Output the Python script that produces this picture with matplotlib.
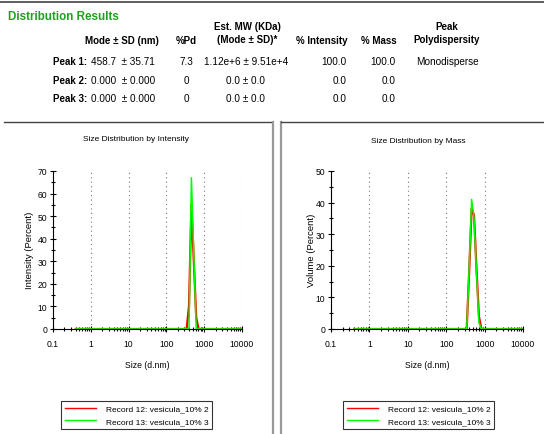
import numpy as np
import matplotlib
matplotlib.use("Agg")
import matplotlib.pyplot as plt
from matplotlib.ticker import LogLocator, MultipleLocator, FixedLocator, NullFormatter
from matplotlib.lines import Line2D

plt.rcParams.update({
    "font.family": ["Liberation Sans", "DejaVu Sans"],
    "font.size": 6,
})

# ---- table values ----
col_heads = ["Mode ± SD (nm)", "%Pd", "Est. MW (KDa)\n(Mode ± SD)*", "% Intensity", "% Mass",
             "Peak\nPolydispersity"]
peaks = ["Peak 1:", "Peak 2:", "Peak 3:"]
mode_sd = ["458.7  ± 35.71", "0.000  ± 0.000", "0.000  ± 0.000"]
pd_vals = ["7.3", "0", "0"]
mw_vals = ["1.12e+6 ± 9.51e+4", "0.0 ± 0.0", "0.0 ± 0.0"]
int_vals = ["100.0", "0.0", "0.0"]
mass_vals = ["100.0", "0.0", "0.0"]
poly_vals = ["Monodisperse", "", ""]

# ---- distribution data (size in d.nm) ----
size_bins = [0.4, 342, 396, 459, 531, 615, 712, 825, 10000]
int_rec12 = [0, 0, 10, 55, 30, 5, 0, 0, 0]
int_rec13 = [0, 0, 0, 67, 33, 0, 0, 0, 0]
mass_rec12 = [0, 0, 18, 38, 36, 19, 4, 0, 0]
mass_rec13 = [0, 0, 19, 41, 35, 18, 2, 0, 0]
rec_labels = ["Record 12: vesicula_10% 2", "Record 13: vesicula_10% 3"]
RED, GREEN = "#ff0000", "#00ff00"

W, H = 544, 435
fig = plt.figure(figsize=(W / 100, H / 100), dpi=100)


def fx(px):
    return px / W


def fy(py):
    return 1 - py / H


# frame lines
fig.add_artist(Line2D([0, 1], [fy(3), fy(3)], color="#444444", lw=1.2))
fig.add_artist(Line2D([fx(4), fx(272)], [fy(122.5), fy(122.5)], color="#444444", lw=1.0))
fig.add_artist(Line2D([fx(272.5), fx(272.5)], [fy(122.5), 0], color="#999999", lw=1.6))
fig.add_artist(Line2D([fx(280.5), fx(280.5)], [fy(122.5), 0], color="#999999", lw=1.6))
fig.add_artist(Line2D([fx(280.5), 1], [fy(122.5), fy(122.5)], color="#444444", lw=1.0))

# ---- header table ----
fig.text(fx(8), fy(17), "Distribution Results", color="#22a022", fontsize=8.4,
         fontweight="bold", va="center", ha="left")
head_x = [122, 186, 247, 322, 379, 447]
for x, h in zip(head_x, col_heads):
    yy = 41 if "\n" not in h else 33.5
    fig.text(fx(x), fy(yy), h, fontsize=7, fontweight="bold", ha="center", va="center",
             linespacing=1.45)

row_y = [62, 81, 99]
for i, y in enumerate(row_y):
    fig.text(fx(87), fy(y), peaks[i], fontsize=7, fontweight="bold", ha="right", va="center")
    fig.text(fx(91), fy(y), mode_sd[i], fontsize=7.2, ha="left", va="center")
    fig.text(fx(186), fy(y), pd_vals[i], fontsize=7.2, ha="center", va="center")
    fig.text(fx(246), fy(y), mw_vals[i], fontsize=7.2, ha="center", va="center")
    fig.text(fx(347), fy(y), int_vals[i], fontsize=7.2, ha="right", va="center")
    fig.text(fx(396), fy(y), mass_vals[i], fontsize=7.2, ha="right", va="center")
    fig.text(fx(447), fy(y), poly_vals[i], fontsize=7.2, ha="center", va="center")


def panel(left_px, right_px, ymax, r_vals, g_vals, title, title_x, title_y, ylabel, ylab_x,
          leg_cx):
    ax = fig.add_axes([fx(left_px), fy(330), (right_px - left_px) / W, 158 / H])
    ax.plot(size_bins, r_vals, color=RED, lw=1.6, zorder=3)
    ax.plot(size_bins, g_vals, color=GREEN, lw=1.1, zorder=4)
    ax.set_xscale("log")
    ax.set_xlim(0.1, 10000)
    ax.set_ylim(0, ymax)
    for s in ["top", "right"]:
        ax.spines[s].set_visible(False)
    ax.spines["left"].set_linewidth(0.8)
    ax.spines["bottom"].set_linewidth(0.8)
    ax.xaxis.set_major_locator(FixedLocator([0.1, 1, 10, 100, 1000, 10000]))
    ax.set_xticklabels(["0.1", "1", "10", "100", "1000", "10000"])
    ax.xaxis.set_minor_locator(LogLocator(base=10, subs=np.arange(2, 10), numticks=20))
    ax.xaxis.set_minor_formatter(NullFormatter())
    ax.yaxis.set_major_locator(MultipleLocator(10))
    ax.yaxis.set_minor_locator(MultipleLocator(5))
    ax.tick_params(which="major", direction="inout", length=4, width=0.8, labelsize=6.2, pad=2)
    ax.tick_params(which="minor", direction="inout", length=2.5, width=0.8)
    ax.tick_params(axis="x", which="major", pad=5)
    ax.grid(axis="x", which="major", linestyle=(0, (1, 3)), color="#777777", lw=0.8)
    ax.set_xlabel("Size (d.nm)", fontsize=6.2, labelpad=9)
    fig.text(fx(ylab_x), fy(250), ylabel, rotation=90, fontsize=6.8, ha="center", va="center")
    fig.text(fx(title_x), fy(title_y), title, fontsize=6, ha="center", va="center")
    handles = [Line2D([], [], color=RED, lw=1.0), Line2D([], [], color=GREEN, lw=1.0)]
    leg = fig.legend(handles, rec_labels, loc="center", bbox_to_anchor=(fx(leg_cx), fy(416)),
                     fontsize=6, frameon=True, fancybox=False, edgecolor="black",
                     handlelength=3.8, handletextpad=1.1, borderpad=0.45, labelspacing=0.6,
                     borderaxespad=0, handleheight=0.7)
    leg.get_frame().set_linewidth(0.8)
    return ax


panel(53, 242, 70, int_rec12, int_rec13, "Size Distribution by Intensity", 136, 139.5,
      "Intensity (Percent)", 30, 136.5)
panel(331, 523, 50, mass_rec12, mass_rec13, "Size Distribution by Mass", 418, 141.5,
      "Volume (Percent)", 311, 418.5)

fig.savefig("out.png", dpi=100)
